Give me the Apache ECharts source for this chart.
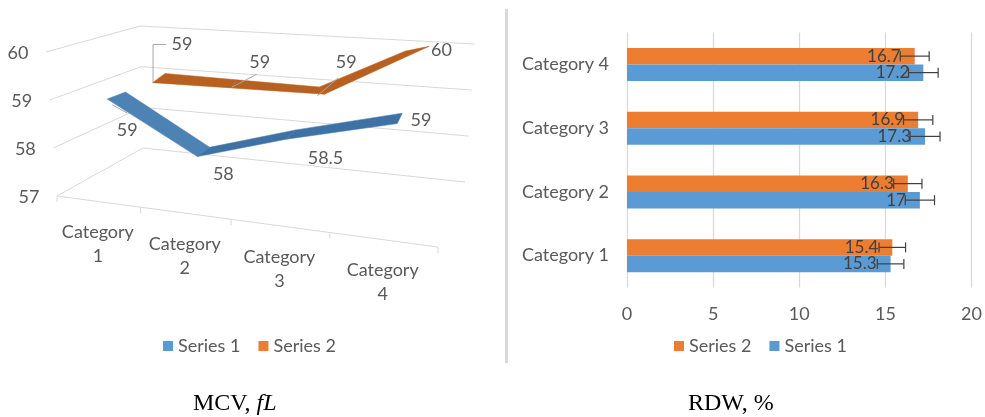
<!DOCTYPE html>
<html>
<head>
<meta charset="utf-8">
<style>html,body{margin:0;padding:0;background:#fff}#chart{width:985px;height:417px}</style>
<script src="https://cdn.jsdelivr.net/npm/echarts@6/dist/echarts.min.js"></script>
</head>
<body>
<div id="chart"></div>
<script>
// Chart values
const categories = ['Category 1', 'Category 2', 'Category 3', 'Category 4'];
const mcvTicks = [57, 58, 59, 60];
const mcvSeries1 = [59, 58, 58.5, 59];
const mcvSeries2 = [59, 59, 59, 60];
const rdwSeries1 = [15.3, 17, 17.3, 17.2];
const rdwSeries2 = [15.4, 16.3, 16.9, 16.7];
const rdwError1 = [0.77, 0.85, 0.87, 0.86];
const rdwError2 = [0.77, 0.82, 0.85, 0.84];

const BLUE = '#5B9BD5', ORANGE = '#ED7D31', GRID = '#d9d9d9', TEXT = '#595959', FONT = 'Lato, sans-serif';

// Perspective box of the left panel: corners run front-left, front-right, back-right, back-left
const floorQuad = [[57, 196], [438, 247], [465, 182], [143, 148]];
const roofQuad = [[46, 52], [448, 97], [475, 44], [140, 26]];

function quadMap(q) {
  const [[x0, y0], [x1, y1], [x2, y2], [x3, y3]] = q;
  const dx1 = x1 - x2, dx2 = x3 - x2, sx = x0 - x1 + x2 - x3;
  const dy1 = y1 - y2, dy2 = y3 - y2, sy = y0 - y1 + y2 - y3;
  const den = dx1 * dy2 - dx2 * dy1;
  const g = (sx * dy2 - dx2 * sy) / den, h = (dx1 * sy - sx * dy1) / den;
  const a = x1 - x0 + g * x1, b = x3 - x0 + h * x3;
  const d = y1 - y0 + g * y1, e = y3 - y0 + h * y3;
  return (u, v) => {
    const w = g * u + h * v + 1;
    return [(a * u + b * v + x0) / w, (d * u + e * v + y0) / w];
  };
}
const floorMap = quadMap(floorQuad), roofMap = quadMap(roofQuad);
// u: along categories, v: depth, w: height between the axis min and max
function project(u, v, w) {
  const p = floorMap(u, v), q = roofMap(u, v);
  return [p[0] + (q[0] - p[0]) * w, p[1] + (q[1] - p[1]) * w];
}
// Converts a point of the flat helper grid into the box
function toBox(api, params, cat, val, depth) {
  const c = api.coord([cat, val]);
  const r = params.coordSys;
  return project((c[0] - r.x) / r.width, depth, (r.y + r.height - c[1]) / r.height);
}

function textEl(text, x, y, extra) {
  return {
    type: 'text', silent: true,
    style: Object.assign({
      text, x, y, fill: TEXT, align: 'center', verticalAlign: 'middle',
      fontFamily: FONT, fontSize: 18, lineHeight: 24
    }, extra || {})
  };
}

// Ribbon of one 3D line series: one face per segment, plus value label and leader.
// The miter at each vertex is tuned with [frontDx, frontDy, backDx, backDy].
function ribbonRenderer(depthFront, depthBack, faces, miters, labelOffsets, leaders) {
  const edge = (api, params, cat, val, depth, dx, dy) => {
    const p = toBox(api, params, cat, val, depth);
    return [p[0] + dx, p[1] + dy];
  };
  return (params, api) => {
    const i = api.value(0), val = api.value(1), next = api.value(2);
    const children = [];
    if (!isNaN(next)) {
      const m = miters[i], n = miters[i + 1];
      const pts = [
        edge(api, params, i, val, depthFront, m[0], m[1]),
        edge(api, params, i + 1, next, depthFront, n[0], n[1]),
        edge(api, params, i + 1, next, depthBack, n[2], n[3]),
        edge(api, params, i, val, depthBack, m[2], m[3])
      ];
      children.push({ type: 'polygon', shape: { points: pts }, style: { fill: faces[i], stroke: faces[i], lineWidth: 0.5 } });
    }
    const anchor = toBox(api, params, i, val, (depthFront + depthBack) / 2);
    const off = labelOffsets[i];
    if (leaders[i]) {
      children.push({
        type: 'polyline', silent: true,
        shape: { points: leaders[i].map(o => [anchor[0] + o[0], anchor[1] + o[1]]) },
        style: { stroke: '#a6a6a6', lineWidth: 1, fill: null }
      });
    }
    children.push(textEl(String(val), anchor[0] + off[0], anchor[1] + off[1]));
    return { type: 'group', children };
  };
}

const ribbonData = arr => arr.map((v, i) => [i, v, i < arr.length - 1 ? arr[i + 1] : null]);
const legendText = { fontFamily: FONT, fontSize: 18, color: TEXT };

const option = {
  animation: false,
  backgroundColor: '#fff',
  title: [
    {
      text: '{a|MCV, }{b|fL}', left: 193, top: 392, padding: 0,
      textStyle: { rich: {
        a: { fontFamily: 'Liberation Serif', fontSize: 24, fontWeight: 'normal', color: '#000' },
        b: { fontFamily: 'Liberation Serif', fontSize: 24, fontWeight: 'normal', fontStyle: 'italic', color: '#000' }
      } }
    },
    {
      text: 'RDW, %', left: 688, top: 392, padding: 0,
      textStyle: { fontFamily: 'Liberation Serif', fontSize: 24, fontWeight: 'normal', color: '#000' }
    }
  ],
  graphic: [{ type: 'rect', shape: { x: 505, y: 9, width: 3, height: 354 }, style: { fill: GRID } }],
  legend: [
    {
      data: ['Series 1', 'Series 2'], left: 163, top: 337, padding: 0, icon: 'rect',
      itemWidth: 10, itemHeight: 10, itemGap: 18, textStyle: legendText
    },
    {
      data: ['Series 2', 'Series 1'], left: 674, top: 337, padding: 0, icon: 'rect',
      itemWidth: 10, itemHeight: 10, itemGap: 18, textStyle: legendText
    }
  ],
  grid: [
    { left: 57, top: 40, width: 380, height: 150 },
    { left: 627, top: 32.5, width: 347, height: 255 }
  ],
  xAxis: [
    { gridIndex: 0, type: 'category', data: categories, show: false },
    {
      gridIndex: 1, type: 'value', min: 0, max: 20, interval: 5,
      axisLine: { show: false }, axisTick: { show: false },
      axisLabel: { color: TEXT, fontFamily: FONT, fontSize: 18, margin: 18 },
      splitLine: { lineStyle: { color: GRID, width: 1.3 } }
    }
  ],
  yAxis: [
    { gridIndex: 0, type: 'value', min: 57, max: 60, interval: 1, show: false },
    {
      gridIndex: 1, type: 'category', data: categories,
      axisLine: { show: false }, axisTick: { show: false },
      axisLabel: { color: TEXT, fontFamily: FONT, fontSize: 18, margin: 18 }
    }
  ],
  series: [
    // Wall grid lines and value axis labels of the 3D panel
    {
      type: 'custom', name: 'walls', xAxisIndex: 0, yAxisIndex: 0, clip: false, silent: true,
      data: mcvTicks.map(t => [0, t]),
      renderItem(params, api) {
        const val = api.value(1);
        const r = params.coordSys;
        const w = (r.y + r.height - api.coord([0, val])[1]) / r.height;
        const pts = [project(0, 0, w), project(0, 1, w), project(1, 1, w)];
        return {
          type: 'group', children: [
            { type: 'polyline', shape: { points: pts }, style: { stroke: GRID, lineWidth: 1, fill: null } },
            textEl(String(val), pts[0][0] - 28, pts[0][1] + 1)
          ]
        };
      }
    },
    // Floor edge, its ticks and the category labels
    {
      type: 'custom', name: 'floor', xAxisIndex: 0, yAxisIndex: 0, clip: false, silent: true,
      data: categories.map((c, i) => [i, mcvTicks[0]]),
      renderItem(params, api) {
        const i = api.value(0), n = categories.length;
        const a = project(i / n, 0, 0), b = project((i + 1) / n, 0, 0);
        const mid = toBox(api, params, i, mcvTicks[0], 0);
        const parts = categories[i].split(' ');
        const children = [
          { type: 'line', shape: { x1: a[0], y1: a[1], x2: b[0], y2: b[1] }, style: { stroke: GRID, lineWidth: 1 } },
          { type: 'line', shape: { x1: b[0], y1: b[1], x2: b[0], y2: b[1] + 6 }, style: { stroke: GRID, lineWidth: 1 } },
          textEl(parts[0] + '\n' + parts[1], mid[0], mid[1] + 43)
        ];
        if (i === 0) children.push({ type: 'line', shape: { x1: a[0], y1: a[1], x2: a[0], y2: a[1] + 6 }, style: { stroke: GRID, lineWidth: 1 } });
        return { type: 'group', children };
      }
    },
    {
      type: 'custom', name: 'Series 2', xAxisIndex: 0, yAxisIndex: 0, clip: false,
      itemStyle: { color: ORANGE },
      data: ribbonData(mcvSeries2),
      renderItem: ribbonRenderer(0.62, 0.88,
        ['#b8601f', '#b8601f', '#b8601f'],
        [[10, 2, 2, 1], [17, 1, 3.5, 2], [25, 0, 5, 3], [29, -9, -5, 6]],
        [[29, -32], [36, -20], [39, -27], [36, 0]],
        [[[13, -32], [0, -32], [0, 6]], [[33, -8], [8, 5]], [[31, -11], [10, 7]], null])
    },
    {
      type: 'custom', name: 'Series 1', xAxisIndex: 0, yAxisIndex: 0, clip: false,
      itemStyle: { color: BLUE },
      data: ribbonData(mcvSeries1),
      renderItem: ribbonRenderer(0.12, 0.38,
        ['#4d82b5', '#3f72a4', '#3f72a4'],
        [[11, 0, 4, 3], [14, 0, 5, 4], [16, -3.5, 7.5, 1], [18, -7, 10, -2]],
        [[18, 36], [29, 24], [46, 23], [35, -2]],
        [[[3, 11], [18, 19]], null, null, null])
    },
    {
      type: 'bar', name: 'Series 2', xAxisIndex: 1, yAxisIndex: 1, data: rdwSeries2,
      barWidth: 16.5, barGap: 0, itemStyle: { color: ORANGE },
      label: { show: true, position: 'insideRight', distance: 14, color: '#404040', fontFamily: FONT, fontSize: 17 }
    },
    {
      type: 'bar', name: 'Series 1', xAxisIndex: 1, yAxisIndex: 1, data: rdwSeries1,
      barWidth: 16.5, barGap: 0, itemStyle: { color: BLUE },
      label: { show: true, position: 'insideRight', distance: 14, color: '#404040', fontFamily: FONT, fontSize: 17 }
    },
    // Error bars on both bar series
    ...[[rdwSeries1, rdwError1, 8.25], [rdwSeries2, rdwError2, -8.25]].map(([vals, errs, shift]) => ({
      type: 'custom', xAxisIndex: 1, yAxisIndex: 1, silent: true, z: 5,
      data: vals.map((v, i) => [v - errs[i], v + errs[i], i]),
      encode: { x: [0, 1], y: 2 },
      renderItem(params, api) {
        const c = api.value(2);
        const lo = api.coord([api.value(0), c]), hi = api.coord([api.value(1), c]);
        const y = lo[1] + shift;
        const style = { stroke: '#404040', lineWidth: 1.2 };
        return {
          type: 'group', children: [
            { type: 'line', shape: { x1: lo[0], y1: y, x2: hi[0], y2: y }, style },
            { type: 'line', shape: { x1: lo[0], y1: y - 5, x2: lo[0], y2: y + 5 }, style },
            { type: 'line', shape: { x1: hi[0], y1: y - 5, x2: hi[0], y2: y + 5 }, style }
          ]
        };
      }
    }))
  ]
};

echarts.init(document.getElementById('chart'), null, { renderer: 'canvas' }).setOption(option);
</script>
</body>
</html>
